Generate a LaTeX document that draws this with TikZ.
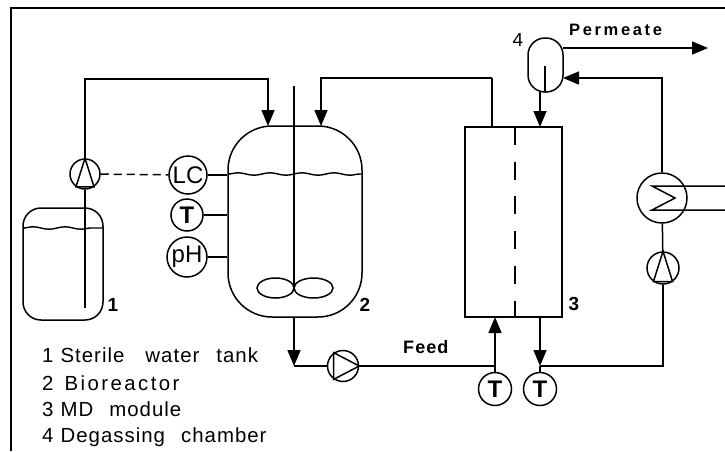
\documentclass[tikz,border=0pt]{standalone}
\usepackage{fontspec}
\setmainfont{Liberation Sans}
\newfontfamily\spacedfont[LetterSpace=16]{Liberation Sans}
\newfontfamily\feedfont[LetterSpace=6]{Liberation Sans}
\newfontfamily\keyfont[LetterSpace=5]{Liberation Sans}
\newfontfamily\widekeyfont[LetterSpace=12]{Liberation Sans}
\usetikzlibrary{arrows.meta,decorations.pathmorphing}
\tikzset{
    pipe/.style={line width=1.5pt},
    gauge/.style={circle, draw, line width=1.5pt, fill=white, inner sep=0pt, font=\fontsize{24}{24}\selectfont},
    pumpc/.style={circle, draw, line width=1.5pt, fill=white, inner sep=0pt},
    vessel/.style={rectangle, draw, line width=1.5pt, inner sep=0pt},
    level/.style={line width=1.4pt, decorate, decoration={snake, amplitude=1.2pt, segment length=32pt}},
    tag/.style={font=\fontsize{19}{19}\selectfont\bfseries},
    key/.style={anchor=west, inner sep=0pt, font=\fontsize{20.4}{20.4}\selectfont\keyfont},
}
\begin{document}
\begin{tikzpicture}[x=1pt, y=-1pt, >={Triangle[length=16pt, width=13pt]}]
    \useasboundingbox (0,0) rectangle (725,451);

    % frame
    \coordinate (fA) at (10.5,451);
    \coordinate (fB) at (10.5,8);
    \coordinate (fC) at (725,8);
    \draw[line width=2pt] (fA) -- (fB) -- (fC);

    % vessels
    \node[vessel, minimum width=80pt, minimum height=112pt, rounded corners=18pt] (tank) at (63,264) {};
    \node[vessel, minimum width=134pt, minimum height=191pt, rounded corners=44pt] (bio) at (295,221.5) {};
    \node[vessel, minimum width=97pt, minimum height=190pt] (module) at (513.5,222) {};
    \node[vessel, minimum width=35pt, minimum height=54pt, rounded corners=17pt] (degas) at (545.5,65) {};

    % water levels
    \coordinate (lvA) at (23,228);
    \coordinate (lvB) at (103,228);
    \draw[level] (lvA) -- (lvB);
    \coordinate (lvC) at (228,174);
    \coordinate (lvD) at (362,174);
    \draw[level] (lvC) -- (lvD);

    % stirrer
    \coordinate (shT) at (294,86);
    \coordinate (shB) at (294,288);
    \draw[pipe] (shT) -- (shB);
    \draw[pipe] (shB) ++(-18.5,0) ellipse (18.5pt and 10pt);
    \draw[pipe] (shB) ++(19.5,0) ellipse (19.5pt and 10pt);

    % membrane
    \coordinate (mT) at (515,127);
    \coordinate (mB) at (515,317);
    \draw[pipe, dash pattern=on 18pt off 16.7pt] (mT) -- (mB);

    % pumps
    \node[pumpc, minimum size=30pt] (pumpA) at (85,174) {};
    \draw[pipe] (pumpA.90) -- (pumpA.235) -- (pumpA.305) -- cycle;
    \node[pumpc, minimum size=31pt] (pumpB) at (343,366) {};
    \draw[pipe] (pumpB.0) -- (pumpB.125) -- (pumpB.235) -- cycle;
    \node[pumpc, minimum size=32pt] (pumpC) at (663,268) {};
    \draw[pipe] (pumpC.90) -- (pumpC.235) -- (pumpC.305) -- cycle;

    % heat exchanger
    \node[pumpc, minimum size=50pt] (hex) at (662,198) {};
    \coordinate (hxA) at (725,186);
    \coordinate (hxB) at (652,186);
    \coordinate (hxC) at (675,198);
    \coordinate (hxD) at (652,210);
    \coordinate (hxE) at (725,210);
    \draw[pipe] (hxA) -- (hxB) -- (hxC) -- (hxD) -- (hxE);

    % gauges
    \node[gauge, minimum size=38pt] (lc) at (188,175) {LC};
    \node[gauge, minimum size=32pt] (tempA) at (187,215) {\textbf{T}};
    \node[gauge, minimum size=40pt] (ph) at (187,257) {pH};
    \node[gauge, minimum size=33pt] (tempB) at (495,389) {\textbf{T}};
    \node[gauge, minimum size=33pt] (tempC) at (540,389) {\textbf{T}};

    \draw[pipe] (lc) -- (lc -| bio.west);
    \draw[pipe] (tempA) -- (tempA -| bio.west);
    \draw[pipe] (ph) -- (ph -| bio.west);
    \draw[pipe, dash pattern=on 8pt off 5pt] (pumpA) -- (lc);

    % pipe corners
    \coordinate (cA) at (85,79);
    \coordinate (inA) at (268,126);
    \coordinate (cB) at (492,78);
    \coordinate (inB) at (321,126);
    \coordinate (outB) at (492,127);
    \coordinate (dipA) at (85,308);
    \coordinate (dipB) at (545,66);
    \coordinate (dipC) at (545,92);
    \coordinate (downT) at (540,92);
    \coordinate (inM) at (540,127);
    \coordinate (cC) at (294,366);
    \coordinate (top) at (294,317);
    \coordinate (jA) at (495,366);
    \coordinate (jB) at (540,366);
    \coordinate (botA) at (495,317);
    \coordinate (botB) at (540,317);
    \coordinate (cD) at (663,366);
    \coordinate (cE) at (662,78);
    \coordinate (inD) at (563,78);
    \coordinate (perA) at (563,48);
    \coordinate (perB) at (708,48);

    % pipes
    \draw[pipe] (pumpA.south) -- (dipA);
    \draw[pipe, ->] (pumpA.north) -- (cA) -| (inA);
    \draw[pipe] (outB) -- (cB);
    \draw[pipe, ->] (cB) -| (inB);
    \draw[pipe] (dipB) -- (dipC);
    \draw[pipe, ->] (downT) -- (inM);
    \draw[pipe, ->] (top) -- (cC);
    \draw[pipe] (cC) -- (pumpB);
    \draw[pipe] (pumpB) -- (jA);
    \draw[pipe, ->] (jA) -- (botA);
    \draw[pipe] (tempB) -- (jA);
    \draw[pipe] (tempC) -- (jB);
    \draw[pipe, ->] (botB) -- (jB);
    \draw[pipe] (jB) -- (cD) -- (pumpC);
    \draw[pipe] (pumpC) -- (hex);
    \draw[pipe, ->] (hex.north) -- (cE) -- (inD);
    \draw[pipe, ->] (perA) -- (perB);

    % labels
    \node[tag] (tagA) at (113,305) {1};
    \node[tag] (tagB) at (365,305) {2};
    \node[tag] (tagC) at (574,304) {3};
    \node[font=\fontsize{19}{19}\selectfont] (tagD) at (518,40) {4};
    \node[font=\fontsize{16.5}{16.5}\selectfont\spacedfont\bfseries, anchor=west, inner sep=0pt] (perm) at (569,30) {Permeate};
    \node[font=\fontsize{18}{18}\selectfont\feedfont\bfseries, anchor=west, inner sep=0pt] (feed) at (403,347) {Feed};

    \node[key] (keyA) at (42,355) {1\hspace{7pt}Sterile\hspace{21pt}water\hspace{17pt}tank};
    \node[key] (keyB) at (42,383) {2\hspace{11pt}{\widekeyfont Bioreactor}};
    \node[key] (keyC) at (42,409) {3\hspace{7pt}MD\hspace{16pt}module};
    \node[key] (keyD) at (42,437) {4\hspace{7pt}Degassing\hspace{16pt}chamber};
\end{tikzpicture}
\end{document}
